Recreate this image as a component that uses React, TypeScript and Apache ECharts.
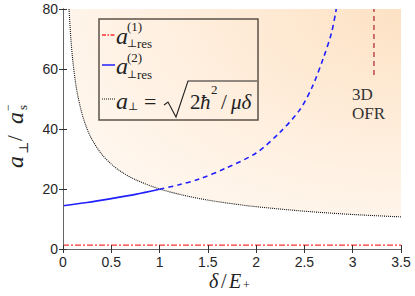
import React, { useEffect, useRef } from "react";
import * as echarts from "echarts";

// ---- data ----
const xTicks = [0, 0.5, 1, 1.5, 2, 2.5, 3, 3.5];
const yTicks = [0, 20, 40, 60, 80];
// a_perp^(1)_res  (red dash-dot, nearly flat)
const res1 = [[0, 1.3], [3.5, 1.3]];
// a_perp^(2)_res  solid part
const res2Solid = [[0, 14.4], [0.25, 15.5], [0.5, 16.8], [0.75, 18.2], [1, 19.9]];
// a_perp^(2)_res  dashed part
const res2Dashed = [[1, 19.9], [1.2, 21.4], [1.41, 23.3], [1.69, 27], [2, 32], [2.24, 38.7], [2.45, 46.3], [2.58, 54], [2.7, 64], [2.78, 72], [2.83, 80]];
// a_perp = sqrt(2 hbar^2 / mu delta)  (black dotted)
const aPerp = [[0.0625, 80], [0.08, 70.7], [0.1, 63.2], [0.125, 56.6], [0.15, 51.6], [0.2, 44.7], [0.25, 40], [0.3, 36.5], [0.4, 31.6], [0.5, 28.3], [0.6, 25.8], [0.75, 23.1], [1, 20], [1.25, 17.9], [1.5, 16.3], [1.75, 15.1], [2, 14.1], [2.5, 12.6], [3, 11.5], [3.5, 10.7]];
// 3D OFR marker line
const ofrLine = [[3.22, 58], [3.22, 80]];

const SERIF = '"Liberation Serif", "DejaVu Serif", serif';
const SANS = '"Liberation Sans", Arial, sans-serif';
const Z = 100;

function t(text: string, x: number, y: number, size: number, italic = false, extra: any = {}) {
  return {
    type: "text",
    x,
    y,
    z: Z,
    silent: true,
    style: {
      text,
      fontSize: size,
      fontFamily: SERIF,
      fontStyle: italic ? "italic" : "normal",
      fill: "#222",
      verticalAlign: "middle",
      align: "left",
      ...extra,
    },
  };
}

export default function App() {
  const ref = useRef<HTMLDivElement>(null);
  useEffect(() => {
    if (!ref.current) return;
    const chart = echarts.init(ref.current, undefined, { renderer: "svg" });
    const axisCol = "#333";
    const baseX = {
      type: "value",
      min: xTicks[0],
      max: xTicks[xTicks.length - 1],
      interval: 0.5,
      z: 10,
      splitLine: { show: false },
      axisTick: { inside: true, length: 4, lineStyle: { color: axisCol } },
      axisLine: { lineStyle: { color: axisCol, width: 1 } },
    };
    const baseY = {
      type: "value",
      min: yTicks[0],
      max: yTicks[yTicks.length - 1],
      interval: 20,
      z: 10,
      splitLine: { show: false },
      axisTick: { inside: true, length: 4, lineStyle: { color: axisCol } },
      axisLine: { lineStyle: { color: axisCol, width: 1 } },
    };
    const graphic: any[] = [
      // legend box
      {
        type: "rect",
        z: Z,
        shape: { x: 99, y: 19, width: 159, height: 101 },
        style: { fill: "none", stroke: "#5b5148", lineWidth: 1.5 },
        silent: true,
      },
      { type: "line", z: Z, shape: { x1: 102, y1: 35, x2: 115, y2: 35 }, style: { stroke: "#ff3030", lineWidth: 1.3, lineDash: [4, 1.5, 1.5, 1.5] } },
      { type: "line", z: Z, shape: { x1: 102, y1: 65, x2: 115, y2: 65 }, style: { stroke: "#2020ff", lineWidth: 1.5 } },
      { type: "line", z: Z, shape: { x1: 102, y1: 99, x2: 115, y2: 99 }, style: { stroke: "#111", lineWidth: 1, lineDash: [1, 1] } },
      t("a", 116, 36, 24, true),
      t("(1)", 127, 26, 13),
      t("⊥", 127, 43, 11),
      t("res", 137, 43, 13),
      t("a", 116, 66, 24, true),
      t("(2)", 127, 57, 13),
      t("⊥", 127, 74, 11),
      t("res", 137, 74, 13),
      t("a", 116, 101, 24, true),
      t("⊥", 128, 106, 11),
      t("=", 144, 101, 22),
      {
        type: "polyline",
        z: Z,
        shape: { points: [[164, 105], [168, 102], [176, 117], [188, 81], [257, 81]] },
        style: { stroke: "#222", lineWidth: 1.1, fill: "none" },
        silent: true,
      },
      t("2", 190, 102, 21),
      t("ħ", 200, 102, 21, true),
      t("2", 211, 89, 13),
      t("/", 221, 102, 21),
      t("μδ", 231, 102, 21, true),
      // 3D OFR annotation
      t("3D", 352, 94, 17, false, { fill: "#333" }),
      t("OFR", 352, 113, 17, false, { fill: "#333" }),
      // x axis name
      t("δ", 209, 281, 20, true),
      t("/", 221, 281, 20),
      t("E", 229, 281, 20, true),
      t("+", 243, 285, 12),
      // y axis name (rotated)
      {
        type: "group",
        x: 20,
        y: 168,
        z: Z,
        rotation: Math.PI / 2,
        children: [
          t("a", 0, -5, 24, true),
          t("⊥", 14, 3, 13),
          t("/", 27, -5, 21),
          t("a", 44, -5, 24, true),
          t("s", 58, 2, 13),
          t("−", 57, -12, 12),
        ],
      },
    ];
    chart.setOption({
      animation: false,
      backgroundColor: "#fff",
      grid: { left: 63, right: 14, top: 9, bottom: 47, containLabel: false },
      xAxis: [
        {
          ...baseX,
          position: "bottom",
          axisLabel: { fontSize: 14, fontFamily: SANS, color: "#262626", margin: 6 },
        },
        { ...baseX, position: "top", axisLabel: { show: false }, axisLine: { lineStyle: { color: "#666" } } },
      ],
      yAxis: [
        {
          ...baseY,
          position: "left",
          axisLabel: { fontSize: 14, fontFamily: SANS, color: "#262626", margin: 5 },
        },
        { ...baseY, position: "right", axisLabel: { show: false }, axisLine: { lineStyle: { color: "#666" } } },
      ],
      series: [
        {
          type: "line",
          data: aPerp,
          showSymbol: false,
          smooth: 0.3,
          z: 1,
          lineStyle: { color: "#111", width: 1.1, type: [1, 1] },
          areaStyle: {
            origin: "end",
            opacity: 1,
            color: new echarts.graphic.RadialGradient(1, 0, 1.7, [
              { offset: 0, color: "#fde2c4" },
              { offset: 0.5, color: "#fff2e5" },
              { offset: 1, color: "#ffffff" },
            ]),
          },
        },
        {
          type: "line",
          data: res1,
          showSymbol: false,
          z: 3,
          lineStyle: { color: "#ff3030", width: 1.3, type: [6, 2, 2, 2] },
        },
        {
          type: "line",
          data: res2Solid,
          showSymbol: false,
          smooth: 0.3,
          z: 3,
          lineStyle: { color: "#2020ff", width: 1.6 },
        },
        {
          type: "line",
          data: res2Dashed,
          showSymbol: false,
          smooth: 0.3,
          z: 3,
          lineStyle: { color: "#2020ff", width: 1.6, type: [5, 4] },
        },
        {
          type: "line",
          data: ofrLine,
          showSymbol: false,
          z: 3,
          lineStyle: { color: "#b3303a", width: 1.3, type: [5, 4] },
        },
      ],
      graphic,
    });
    return () => chart.dispose();
  }, []);
  return <div ref={ref} style={{ position: "fixed", left: 0, top: 0, width: 415, height: 296 }} />;
}
